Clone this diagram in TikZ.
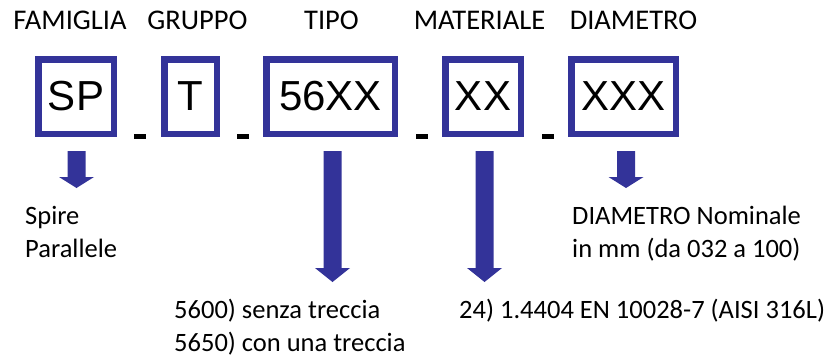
\documentclass[tikz,border=0pt]{standalone}
\usepackage{fontspec}
\setmainfont{Carlito}
\newfontfamily\arialfont{Liberation Sans}
\definecolor{boxblue}{RGB}{51,51,153}
\usetikzlibrary{calc}
\tikzset{
  codebox/.style={draw=boxblue, line width=6.5pt, fill=white, inner sep=0pt,
    font=\arialfont\fontsize{42}{46}\selectfont, text=black},
  header/.style={anchor=base, inner sep=0pt, font=\fontsize{28.5}{34}\selectfont},
  note/.style={anchor=base west, inner sep=0pt, font=\fontsize{26.5}{32}\selectfont},
  arrowfill/.style={fill=boxblue},
  dashbar/.style={fill=black},
}
\newcommand\blockarr[4]{% name, centre x, head base y, tip y
  \coordinate (#1-tip) at (#2,#4);
  \fill[arrowfill] (#2-9,151) -- (#2+9,151) -- (#2+9,#3) -- (#2+17.5,#3)
    -- (#1-tip) -- (#2-17.5,#3) -- (#2-9,#3) -- cycle;
}
\begin{document}
\begin{tikzpicture}[x=1pt,y=-1pt]
\useasboundingbox (0,0) rectangle (830,359);
% headers
\node[header] (hfam) at (70,29) {FAMIGLIA};
\node[header] (hgru) at (197.5,29) {GRUPPO};
\node[header] (htip) at (331.5,29) {TIPO};
\node[header] (hmat) at (479.5,29) {MATERIALE};
\node[header] (hdia) at (633.5,29) {DIAMETRO};
% boxes
\node[codebox, minimum width=75.5pt, minimum height=74.5pt] (sp) at (76,96.5) {SP};
\node[codebox, minimum width=52.5pt, minimum height=74.5pt] (t) at (190.5,96.5) {T};
\node[codebox, minimum width=128.5pt, minimum height=74.5pt] (tipo) at (330.5,96.5) {56XX};
\node[codebox, minimum width=75.5pt, minimum height=74.5pt] (mat) at (483,96.5) {XX};
\node[codebox, minimum width=104.5pt, minimum height=74.5pt] (dia) at (623.5,96.5) {XXX};
% separators
\fill[dashbar] (134,134) rectangle (146,139);
\fill[dashbar] (237,134) rectangle (249,139);
\fill[dashbar] (416,134) rectangle (428,139);
\fill[dashbar] (542,134) rectangle (554,139);
% arrows
\blockarr{asp}{76.5}{177}{188}
\blockarr{atipo}{332.5}{268}{282}
\blockarr{amat}{484.5}{268}{282}
\blockarr{adia}{626}{177}{188}
% notes
\node[note] (n1a) at (25,224) {Spire};
\node[note] (n1b) at (25,257) {Parallele};
\node[note] (n2a) at (174,318) {5600) senza treccia};
\node[note] (n2b) at (174,351) {5650) con una treccia};
\node[note] (n3a) at (459,318) {24) 1.4404 EN 10028-7 (AISI 316L)};
\node[note] (n4a) at (572,224) {DIAMETRO Nominale};
\node[note] (n4b) at (572,257) {in mm (da 032 a 100)};
\end{tikzpicture}
\end{document}
